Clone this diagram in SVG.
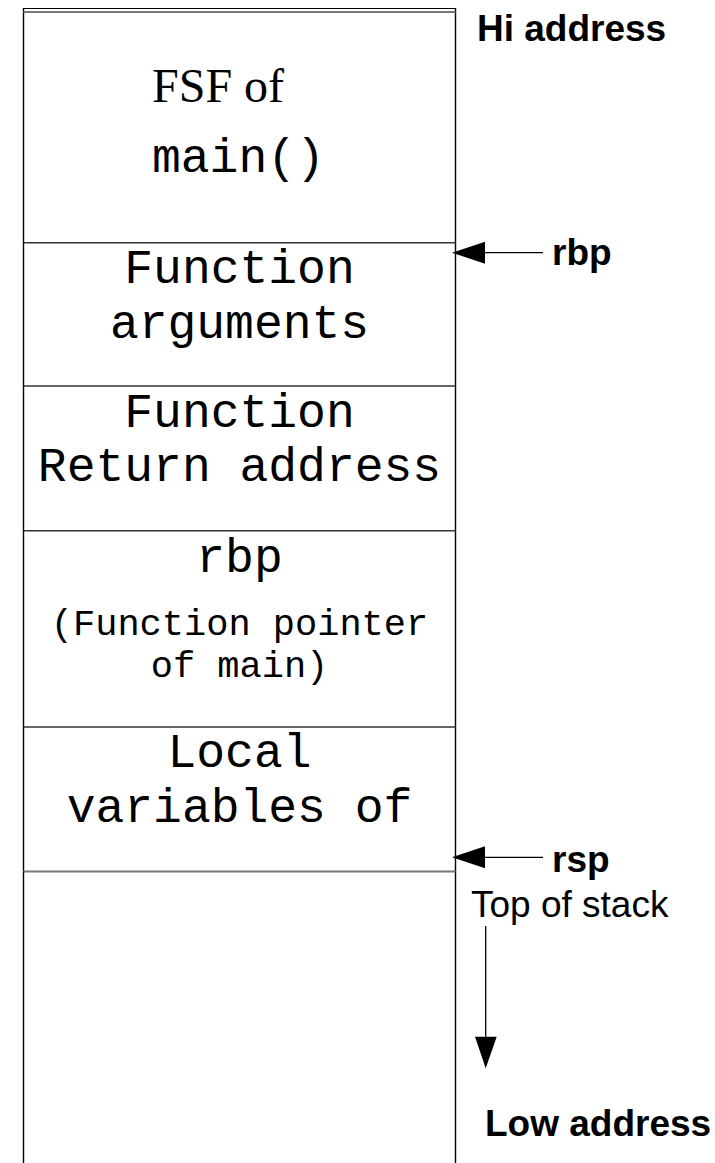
<svg xmlns="http://www.w3.org/2000/svg" width="715" height="1163" viewBox="0 0 715 1163">
  <style>
    .wall { stroke: #000; stroke-width: 1.4; fill: none; }
    .sep { stroke: #333; stroke-width: 1.6; }
    .mono { font-family: "Liberation Mono", "Courier New", monospace; font-size: 48px; fill: #000; text-anchor: middle; }
    .mono-sm { font-size: 37px; }
    .serif { font-family: "Liberation Serif", "Times New Roman", serif; font-size: 48px; fill: #000; }
    .lbl { font-family: "Liberation Sans", Arial, sans-serif; font-size: 37px; fill: #000; }
    .bold { font-weight: bold; }
    .conn { stroke: #000; stroke-width: 1.3; fill: none; }
    .head { fill: #000; stroke: none; }
  </style>

  <!-- stack column walls -->
  <g id="stack-walls">
    <line class="wall" x1="23.5" y1="8" x2="23.5" y2="1163"/>
    <line class="wall" x1="455.5" y1="8" x2="455.5" y2="1163"/>
    <line x1="23.5" y1="8.5" x2="455.5" y2="8.5" stroke="#000" stroke-width="1"/>
    <line x1="23.5" y1="12" x2="455.5" y2="12" stroke="#777" stroke-width="2"/>
  </g>

  <!-- frame of main() -->
  <g id="frame-main">
    <text class="serif" x="152" y="101.7">FSF of</text>
    <text class="mono" x="152" y="171.7" style="text-anchor:start">main()</text>
  </g>

  <g id="slot-arguments">
    <line class="sep" x1="23.5" y1="242.7" x2="455.5" y2="242.7"/>
    <text class="mono" x="239.5" y="283.3">Function</text>
    <text class="mono" x="239.5" y="338.3">arguments</text>
  </g>

  <g id="slot-return">
    <line class="sep" x1="23.5" y1="386" x2="455.5" y2="386"/>
    <text class="mono" x="239.5" y="427.3">Function</text>
    <text class="mono" x="239.5" y="480.7">Return address</text>
  </g>

  <g id="slot-saved-rbp">
    <line class="sep" x1="23.5" y1="530.7" x2="455.5" y2="530.7"/>
    <text class="mono" x="239.5" y="571.7">rbp</text>
    <text class="mono mono-sm" x="239.5" y="635">(Function pointer</text>
    <text class="mono mono-sm" x="239.5" y="677.3">of main)</text>
  </g>

  <g id="slot-locals">
    <line class="sep" x1="23.5" y1="727" x2="455.5" y2="727"/>
    <text class="mono" x="239.5" y="766.7">Local</text>
    <text class="mono" x="239.5" y="821.7">variables of</text>
    <line x1="23.5" y1="871.5" x2="455.5" y2="871.5" stroke="#777" stroke-width="2"/>
  </g>

  <!-- labels beside the stack -->
  <g id="label-hi">
    <text class="lbl bold" x="477" y="41">Hi address</text>
  </g>
  <g id="label-rbp">
    <text class="lbl bold" x="552" y="265">rbp</text>
  </g>
  <g id="label-rsp">
    <text class="lbl bold" x="552" y="871.7">rsp</text>
  </g>
  <g id="label-top">
    <text class="lbl" x="471" y="917">Top of stack</text>
  </g>
  <g id="label-low">
    <text class="lbl bold" x="485" y="1136">Low address</text>
  </g>

  <!-- pointer arrows -->
  <g id="connectors">
    <line class="conn" x1="484" y1="252.7" x2="543" y2="252.7"/>
    <polygon class="head" points="452,252.7 485,241.7 485,263.7"/>
    <line class="conn" x1="484" y1="857.3" x2="543" y2="857.3"/>
    <polygon class="head" points="452,857.3 485,846.3 485,868.3"/>
    <line class="conn" x1="485.7" y1="926" x2="485.7" y2="1038"/>
    <polygon class="head" points="475,1036.7 496.7,1036.7 485.7,1068.3"/>
  </g>
</svg>
